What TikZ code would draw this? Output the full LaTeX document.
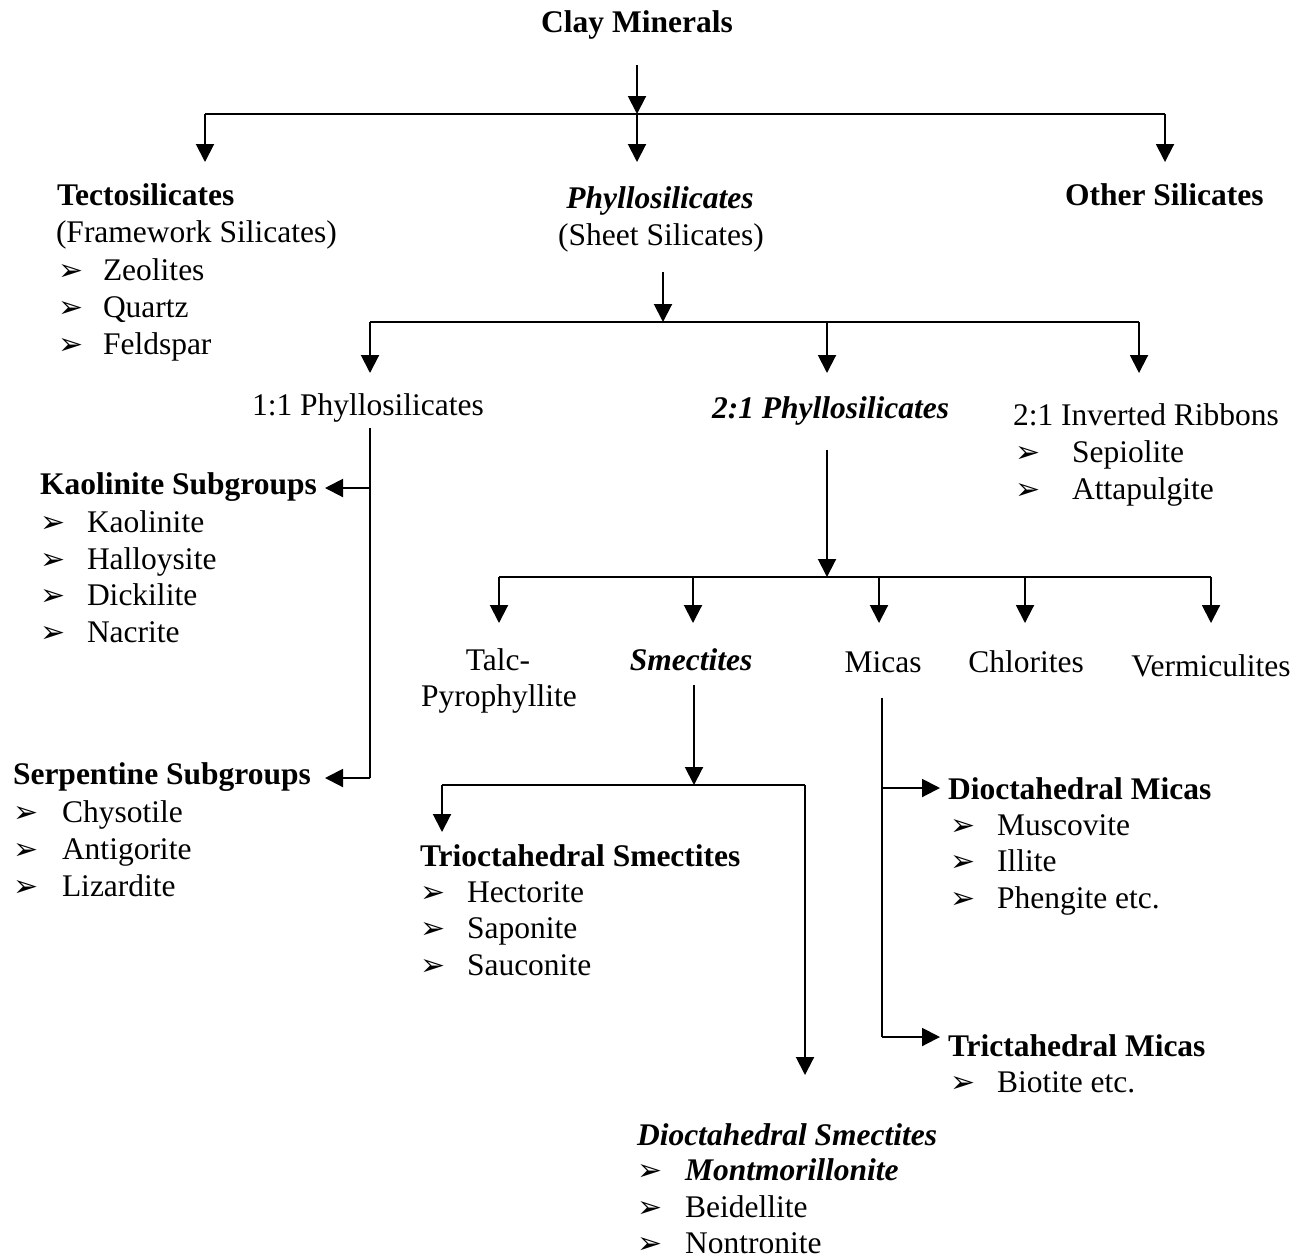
\documentclass[tikz,border=0pt]{standalone}
\usepackage{fontspec}
\setmainfont{Liberation Serif}
\newfontfamily\dejavu{DejaVu Sans}
\usetikzlibrary{arrows.meta}
\newcommand\bul{{\dejavu\fontsize{30}{30}\selectfont ➢}}
\newcommand\lbl[4]{\node[txt,anchor=base west] (#1) at (#2,#3) {#4};}
\newcommand\clbl[4]{\node[txt,anchor=base] (#1) at (#2,#3) {#4};}
\newcommand\itm[5]{\node[txt,anchor=base west] (#1b) at (#2,#4) {\bul};\node[txt,anchor=base west] (#1) at (#3,#4) {#5};}
\tikzset{
  txt/.style={inner sep=0pt,outer sep=0pt,font=\fontsize{31.5}{37}\selectfont},
  arr/.style={line width=2pt,-{Triangle[width=18pt,length=18pt]}},
  ln/.style={line width=2pt},
}
\begin{document}
\begin{tikzpicture}[x=1pt,y=-1pt]
\useasboundingbox (0,0) rectangle (1313,1259);
% texts
\clbl{clay}{637}{32}{\textbf{Clay Minerals}}
\lbl{tecto}{57}{205}{\textbf{Tectosilicates}}
\lbl{frame}{56}{242}{(Framework Silicates)}
\itm{zeo}{58}{103}{280}{Zeolites}
\itm{qua}{58}{103}{317}{Quartz}
\itm{fel}{58}{103}{354}{Feldspar}
\clbl{phyl}{660}{208}{\textbf{\textit{Phyllosilicates}}}
\clbl{sheet}{661}{245}{(Sheet Silicates)}
\lbl{other}{1065}{205}{\textbf{Other Silicates}}
\lbl{one}{252}{415}{1:1 Phyllosilicates}
\lbl{two}{712}{418}{\textbf{\textit{2:1 Phyllosilicates}}}
\lbl{inv}{1013}{425}{2:1 Inverted Ribbons}
\itm{sep}{1015}{1072}{462}{Sepiolite}
\itm{att}{1015}{1072}{499}{Attapulgite}
\lbl{kao}{40}{494}{\textbf{Kaolinite Subgroups}}
\itm{kaoa}{40}{87}{532}{Kaolinite}
\itm{hal}{40}{87}{569}{Halloysite}
\itm{dic}{40}{87}{605}{Dickilite}
\itm{nac}{40}{87}{642}{Nacrite}
\lbl{ser}{13}{784}{\textbf{Serpentine Subgroups}}
\itm{chy}{13}{62}{822}{Chysotile}
\itm{ant}{13}{62}{859}{Antigorite}
\itm{liz}{13}{62}{896}{Lizardite}
\clbl{talc}{498}{670}{Talc-}
\clbl{pyro}{499}{706}{Pyrophyllite}
\clbl{sme}{691}{670}{\textbf{\textit{Smectites}}}
\clbl{mic}{883}{672}{Micas}
\clbl{chl}{1026}{672}{Chlorites}
\clbl{ver}{1211}{676}{Vermiculites}
\lbl{tri}{420}{866}{\textbf{Trioctahedral Smectites}}
\itm{hec}{420}{467}{902}{Hectorite}
\itm{sap}{420}{467}{938}{Saponite}
\itm{sau}{420}{467}{975}{Sauconite}
\lbl{dmic}{948}{799}{\textbf{Dioctahedral Micas}}
\itm{mus}{950}{997}{835}{Muscovite}
\itm{ill}{950}{997}{871}{Illite}
\itm{phe}{950}{997}{908}{Phengite etc.}
\lbl{tmic}{948}{1056}{\textbf{Trictahedral Micas}}
\itm{bio}{950}{997}{1092}{Biotite etc.}
\lbl{dsme}{637}{1145}{\textbf{\textit{Dioctahedral Smectites}}}
\itm{mon}{637}{685}{1180}{\textbf{\textit{Montmorillonite}}}
\itm{bei}{637}{685}{1217}{Beidellite}
\itm{non}{637}{685}{1253}{Nontronite}
% coordinates
\coordinate (c0) at (637,65);
\coordinate (j0) at (637,114);
\coordinate (j0l) at (205,114);
\coordinate (j0r) at (1165,114);
\coordinate (a0l) at (205,162);
\coordinate (a0m) at (637,162);
\coordinate (a0r) at (1165,162);
\coordinate (c1) at (663,272);
\coordinate (j1) at (663,322);
\coordinate (j1l) at (370,322);
\coordinate (j1m) at (827,322);
\coordinate (j1r) at (1139,322);
\coordinate (a1l) at (370,373);
\coordinate (a1m) at (827,373);
\coordinate (a1r) at (1139,373);
\coordinate (c2) at (370,428);
\coordinate (k0) at (370,488);
\coordinate (k1) at (325,488);
\coordinate (s0) at (370,778);
\coordinate (s1) at (325,778);
\coordinate (c3) at (827,450);
\coordinate (j3) at (827,577);
\coordinate (j3a) at (499,577);
\coordinate (j3b) at (693,577);
\coordinate (j3c) at (879,577);
\coordinate (j3d) at (1025,577);
\coordinate (j3e) at (1211,577);
\coordinate (c4) at (694,685);
\coordinate (j4) at (694,785);
\coordinate (j4l) at (442,785);
\coordinate (j4r) at (805,785);
\coordinate (a4l) at (442,832);
\coordinate (a4r) at (805,1075);
\coordinate (c5) at (882,698);
\coordinate (m1) at (882,788);
\coordinate (m1t) at (940,788);
\coordinate (m2) at (882,1037);
\coordinate (m2t) at (940,1037);
% connectors
\draw[arr] (c0) -- (j0);
\draw[ln] (j0l) -- (j0r);
\draw[arr] (j0l) -- (a0l);
\draw[arr] (j0) -- (a0m);
\draw[arr] (j0r) -- (a0r);
\draw[arr] (c1) -- (j1);
\draw[ln] (j1l) -- (j1r);
\draw[arr] (j1l) -- (a1l);
\draw[arr] (j1m) -- (a1m);
\draw[arr] (j1r) -- (a1r);
\draw[ln] (c2) -- (s0);
\draw[arr] (k0) -- (k1);
\draw[arr] (s0) -- (s1);
\draw[arr] (c3) -- (j3);
\draw[ln] (j3a) -- (j3e);
\foreach \p in {j3a,j3b,j3c,j3d,j3e} \draw[arr] (\p) -- ++(0,46);
\draw[arr] (c4) -- (j4);
\draw[ln] (j4l) -- (j4r);
\draw[arr] (j4l) -- (a4l);
\draw[arr] (j4r) -- (a4r);
\draw[ln] (c5) -- (m2);
\draw[arr] (m1) -- (m1t);
\draw[arr] (m2) -- (m2t);
\end{tikzpicture}
\end{document}
